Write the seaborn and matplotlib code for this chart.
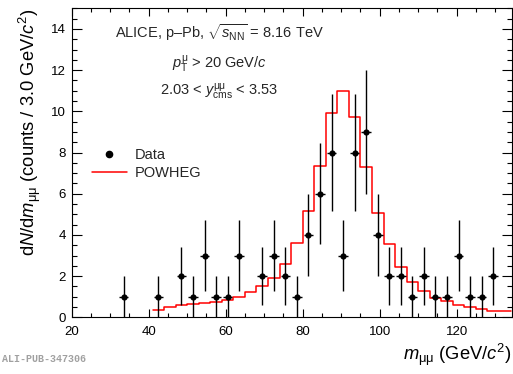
import numpy as np
import pandas as pd
import matplotlib
matplotlib.use("Agg")
import matplotlib.pyplot as plt
import seaborn as sns
from matplotlib.lines import Line2D
from matplotlib.ticker import MultipleLocator

# ---- data ----
data_mass = [33.5, 36.5, 39.5, 42.5, 45.5, 48.5, 51.5, 54.5, 57.5, 60.5,
             63.5, 66.5, 69.5, 72.5, 75.5, 78.5, 81.5, 84.5, 87.5, 90.5,
             93.5, 96.5, 99.5, 102.5, 105.5, 108.5, 111.5, 114.5, 117.5,
             120.5, 123.5, 126.5, 129.5, 132.5]
data_counts = [1, 0, 0, 1, 0, 2, 1, 3, 1, 1,
               3, 0, 2, 3, 2, 1, 4, 6, 8, 3,
               8, 9, 4, 2, 2, 1, 2, 1, 1,
               3, 1, 1, 2, 0]

powheg_edges = [41, 44, 47, 50, 53, 56, 59, 62, 65, 68, 71, 74, 77, 80, 83,
                86, 89, 92, 95, 98, 101, 104, 107, 110, 113, 116, 119, 122,
                125, 128, 131, 134]
powheg_values = [0.34, 0.50, 0.60, 0.65, 0.69, 0.74, 0.86, 1.00, 1.22, 1.52,
                 1.92, 2.58, 3.63, 5.17, 7.33, 9.91, 10.98, 9.72, 7.30, 5.07,
                 3.55, 2.46, 1.71, 1.29, 0.94, 0.77, 0.60, 0.48, 0.40, 0.32,
                 0.29]

x_ticks = [20, 40, 60, 80, 100, 120]
y_ticks = [0, 2, 4, 6, 8, 10, 12, 14]

# ---- style ----
sns.set_theme(style="ticks")
plt.rcParams["font.family"] = ["Liberation Sans", "DejaVu Sans"]
plt.rcParams["mathtext.fontset"] = "custom"
plt.rcParams["mathtext.rm"] = "Liberation Sans"
plt.rcParams["mathtext.it"] = "Liberation Sans:italic"
plt.rcParams["mathtext.sf"] = "Liberation Sans"
plt.rcParams["mathtext.bf"] = "Liberation Sans:bold"

fig = plt.figure(figsize=(5.13, 3.74), dpi=100)
ax = fig.add_axes([71.7 / 513, 1 - 317.3 / 374, 440 / 513, 309 / 374])

# POWHEG histogram
centers = [0.5 * (a + b) for a, b in zip(powheg_edges[:-1], powheg_edges[1:])]
hist_df = pd.DataFrame({"mass": centers, "w": powheg_values})
sns.histplot(data=hist_df, x="mass", weights="w", bins=list(powheg_edges),
             element="step", fill=False, color="#ff0000", linewidth=1.1,
             ax=ax, legend=False)

# Data points
df = pd.DataFrame({"mass": data_mass, "counts": data_counts})
df = df[df["counts"] > 0]
ax.errorbar(df["mass"], df["counts"], xerr=1.25, yerr=np.sqrt(df["counts"]),
            fmt="none", ecolor="black", elinewidth=1.0, capsize=0, zorder=3)
sns.scatterplot(data=df, x="mass", y="counts", color="black", s=20,
                linewidth=0, ax=ax, zorder=4, legend=False)

# Axes
ax.set_xlim(20, 134.3)
ax.set_ylim(0, 15)
ax.set_xticks(x_ticks)
ax.set_yticks(y_ticks)
ax.xaxis.set_minor_locator(MultipleLocator(5))
ax.yaxis.set_minor_locator(MultipleLocator(0.5))
ax.tick_params(which="both", direction="in", top=True, right=True,
               color="black", width=0.8, labelsize=9.5, labelcolor="black")
ax.tick_params(axis="x", which="major", length=6, pad=6)
ax.tick_params(axis="x", which="minor", length=3)
ax.tick_params(axis="y", which="major", length=7, pad=4)
ax.tick_params(axis="y", which="minor", length=3.5)
for sp in ax.spines.values():
    sp.set_visible(True)
    sp.set_color("black")
    sp.set_linewidth(0.8)

ax.set_xlabel(r"$m_{\mathrm{μμ}}$ (GeV/$c^{2}$)", fontsize=13.2, loc="right",
              labelpad=3, color="black")
ax.set_ylabel(r"d$N$/d$m_{\mathrm{μμ}}$ (counts / 3.0 GeV/$c^{2}$)", fontsize=13.2,
              loc="top", labelpad=6, color="black")

# Annotations
ax.text(0.335, 0.905, r"ALICE, p–Pb, $\sqrt{s_{\mathrm{NN}}}$ = 8.16 TeV",
        transform=ax.transAxes, ha="center", va="baseline", fontsize=10.5)
ax.text(0.335, 0.805, r"$p_{\mathrm{T}}^{\mathrm{μ}}$ > 20 GeV/$c$",
        transform=ax.transAxes, ha="center", va="baseline", fontsize=10.5)
ax.text(0.335, 0.716, r"2.03 < $y^{\mathrm{μμ}}_{\mathrm{cms}}$ < 3.53",
        transform=ax.transAxes, ha="center", va="baseline", fontsize=10.5)

# Legend
handles = [Line2D([], [], marker="o", color="black", linestyle="none", markersize=4.5),
           Line2D([], [], color="#ff0000", linewidth=1.1)]
ax.legend(handles, ["Data", "POWHEG"], loc="center left",
          bbox_to_anchor=(0.045, 0.496), frameon=False, fontsize=10.5,
          handlelength=2.4, handletextpad=0.6, labelspacing=0.25,
          borderpad=0, borderaxespad=0)

fig.text(2 / 513, 1 - 359 / 374, "ALI-PUB-347306", family="Liberation Mono",
         fontsize=7.2, color="#a0a0a0", va="center", ha="left", weight="bold")

fig.savefig("out.png", dpi=100)
